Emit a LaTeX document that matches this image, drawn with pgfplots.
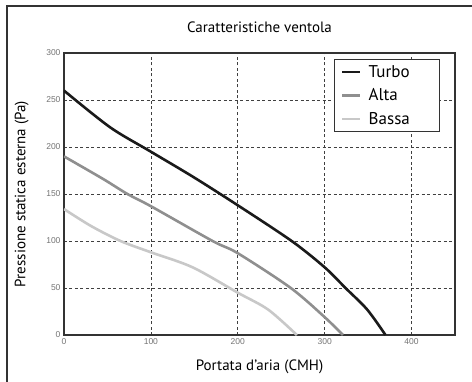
\documentclass[border=0pt]{standalone}
\usepackage{fontspec}
\setmainfont{PT Sans}
\newfontfamily\tickfont{Liberation Sans}
\usepackage{pgfplots}
\pgfplotsset{compat=1.18}
\definecolor{turbo}{HTML}{1A1A1A}
\definecolor{alta}{HTML}{8F8F8F}
\definecolor{bassa}{HTML}{C8C8C8}
\newcommand{\legentry}[1]{\makebox[62pt][l]{#1}}
\begin{document}
\begin{tikzpicture}[x=1pt,y=1pt]
\useasboundingbox (0,0) rectangle (472,381);
% outer frame (only left and top edges are inside the picture)
\draw[line width=2pt, black!80] (7,-2) -- (7,375) -- (474,375);
\begin{axis}[
    at={(64pt,46pt)}, anchor=south west,
    scale only axis, width=391pt, height=282pt,
    xmin=0, xmax=450, ymin=0, ymax=300,
    xtick={0,100,...,400}, ytick={0,50,...,300},
    major tick length=0,
    grid=major,
    major grid style={black!75, line width=0.6pt, dash pattern=on 3pt off 2.5pt},
    axis line style={line width=1.2pt, black!80},
    /pgf/number format/assume math mode=true,
    tick label style={font=\tickfont\fontsize{8.5}{10}\selectfont, text=black!55},
    title={Caratteristiche ventola},
    title style={at={(axis description cs:0.5,1)}, anchor=center, yshift=20pt, font=\fontsize{15}{17}\selectfont},
    xlabel={Portata d'aria (CMH)},
    xlabel style={at={(axis description cs:0.5,0)}, anchor=center, yshift=-32pt, font=\fontsize{15}{17}\selectfont},
    ylabel={Pressione statica esterna (Pa)},
    ylabel style={at={(axis description cs:-0.108,0.5)}, anchor=center, font=\fontsize{15}{17}\selectfont},
    legend style={at={(0.962,0.979)}, anchor=north east, draw=black!80, line width=0.8pt,
        font=\fontsize{17}{20}\selectfont, row sep=6pt, inner xsep=7pt, inner ysep=4pt},
    legend cell align=left,
    legend image code/.code={\draw[#1, line width=2.4pt] (0pt,0pt) -- (18pt,0pt); \path (23pt,0pt);},
]
\addplot[turbo, line width=2.6pt, smooth] coordinates {
    (0,260) (53,221) (100,195) (149,168) (200,138) (262,100) (300,72) (324,50) (349,27) (370,0)};
\addlegendentry{\legentry{Turbo}}
\addplot[alta, line width=2.6pt, smooth] coordinates {
    (0,190) (45,166) (73,150) (100,137) (171,100) (200,87) (261,50) (300,19) (321,0)};
\addlegendentry{\legentry{Alta}}
\addplot[bassa, line width=2.6pt, smooth] coordinates {
    (0,134) (31,116) (65,100) (100,88) (148,72) (200,45) (235,27) (268,0)};
\addlegendentry{\legentry{Bassa}}
\end{axis}
\end{tikzpicture}
\end{document}
